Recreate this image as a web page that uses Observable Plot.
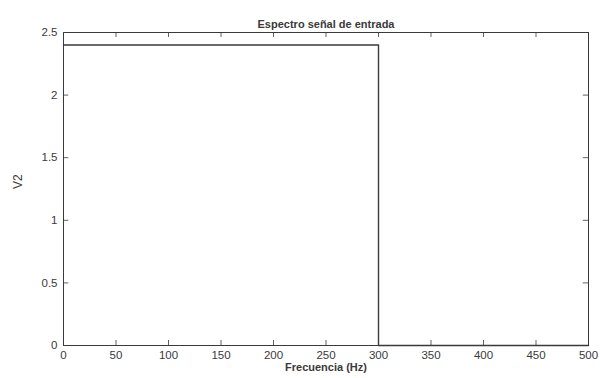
<!DOCTYPE html>
<html><head><meta charset="utf-8">
<script src="https://cdn.jsdelivr.net/npm/d3@7"></script>
<script src="https://cdn.jsdelivr.net/npm/@observablehq/plot@0.6"></script>
<style>
body{margin:0;background:#fff;}
svg{font-family:"Liberation Sans",Arial,sans-serif;}
</style></head>
<body><div id="chart"></div>
<script>
const freq = [0, 300, 300, 500];
const amp = [2.4, 2.4, 0, 0];
const xTicks = [0, 50, 100, 150, 200, 250, 300, 350, 400, 450, 500];
const yTicks = [0, 0.5, 1, 1.5, 2, 2.5];
const yTickLabels = ["0", "0.5", "1", "1.5", "2", "2.5"];
const title = "Espectro señal de entrada";
const xLabel = "Frecuencia (Hz)";
const yLabel = "V2";

const data = freq.map((f, i) => ({f, a: amp[i]}));
const ink = "#3a3a3a";

const chart = Plot.plot({
  width: 600, height: 378,
  marginLeft: 63, marginRight: 12, marginTop: 32, marginBottom: 33,
  style: {fontSize: "11px", color: ink, background: "#fff"},
  x: {domain: [0, 500], ticks: xTicks, tickFormat: d => String(d)},
  y: {domain: [0, 2.5], ticks: yTicks, tickFormat: d => yTickLabels[yTicks.indexOf(d)]},
  marks: [
    Plot.frame({stroke: ink, strokeWidth: 1}),
    Plot.ruleX(xTicks, {x: d => d, y1: 0, y2: 0.04, stroke: ink, strokeWidth: 0.8}),
    Plot.ruleX(xTicks, {x: d => d, y1: 2.5, y2: 2.46, stroke: ink, strokeWidth: 0.8}),
    Plot.ruleY(yTicks, {y: d => d, x1: 0, x2: 5, stroke: ink, strokeWidth: 0.8}),
    Plot.ruleY(yTicks, {y: d => d, x1: 500, x2: 495, stroke: ink, strokeWidth: 0.8}),
    Plot.axisX({ticks: xTicks, tickSize: 0, tickPadding: 5, tickFormat: d => String(d), label: null, fontSize: 11.5, fill: ink}),
    Plot.axisY({ticks: yTicks, tickSize: 0, tickPadding: 6, tickFormat: d => yTickLabels[yTicks.indexOf(d)], label: null, fontSize: 11.5, fill: ink}),
    Plot.line(data, {x: "f", y: "a", stroke: ink, strokeWidth: 1.4}),
    Plot.text([title], {frameAnchor: "top", dy: -12, fontWeight: "bold", fontSize: 11, fill: ink}),
    Plot.text([xLabel], {frameAnchor: "bottom", dy: 25, fontWeight: "bold", fontSize: 11, fill: ink}),
    Plot.text([yLabel], {frameAnchor: "left", dx: -45, rotate: -90, fontSize: 12, fill: ink})
  ]
});
document.getElementById("chart").append(chart);
</script></body></html>
